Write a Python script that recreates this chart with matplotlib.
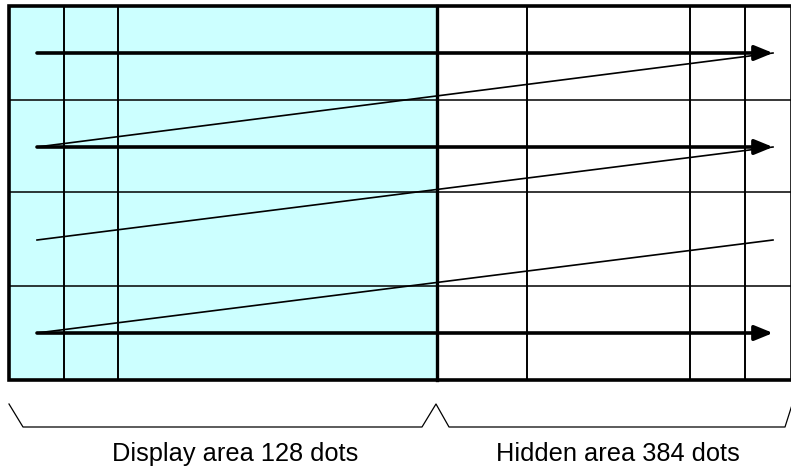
import matplotlib.pyplot as plt
from matplotlib.patches import Rectangle

plt.rcParams["font.family"] = ["Liberation Sans", "DejaVu Sans"]

# frame (pixel coordinates, y downwards)
FRAME_LEFT, FRAME_TOP, FRAME_RIGHT, FRAME_BOTTOM = 9, 6, 792, 380
DISPLAY_RIGHT = 437

GRID_X = [64, 118, 527, 690, 745]
GRID_Y = [100, 192, 286]

ROW_LEFT, ROW_RIGHT = 37, 773
ARROW_ROWS = [53, 147, 333]
SCAN_ROWS = [53, 147, 240, 333]

LABELS = ["Display area 128 dots", "Hidden area 384 dots"]
LABEL_X = [235, 618]
LABEL_Y = 454

BRACE_X = [9, 23, 422, 436, 449, 785, 792]
BRACE_Y = [404, 427, 427, 404, 427, 427, 405]

fig = plt.figure(figsize=(7.91, 4.72), dpi=100)
ax = fig.add_axes([0, 0, 1, 1])
ax.set_xlim(0, 791)
ax.set_ylim(472, 0)
ax.axis("off")

# cyan display area
ax.add_patch(Rectangle((FRAME_LEFT, FRAME_TOP), DISPLAY_RIGHT - FRAME_LEFT,
                       FRAME_BOTTOM - FRAME_TOP, facecolor="#ccffff",
                       edgecolor="none", zorder=0))

# grid lines
for y in GRID_Y:
    ax.plot([FRAME_LEFT, FRAME_RIGHT], [y, y], color="black", lw=1.1, zorder=1)
for x in GRID_X:
    ax.plot([x, x], [FRAME_TOP, FRAME_BOTTOM], color="black", lw=1.4, zorder=1)
ax.plot([DISPLAY_RIGHT, DISPLAY_RIGHT], [FRAME_TOP, FRAME_BOTTOM],
        color="black", lw=2.4, zorder=3)

# outer frame
ax.add_patch(Rectangle((FRAME_LEFT, FRAME_TOP), FRAME_RIGHT - FRAME_LEFT,
                       FRAME_BOTTOM - FRAME_TOP, facecolor="none",
                       edgecolor="black", lw=2.6, zorder=4))

# diagonal return lines
for i in range(len(SCAN_ROWS) - 1):
    ax.plot([ROW_LEFT, ROW_RIGHT], [SCAN_ROWS[i + 1], SCAN_ROWS[i]],
            color="black", lw=1.2, zorder=2)

# scan arrows
for y in ARROW_ROWS:
    ax.annotate("", xy=(ROW_RIGHT, y), xytext=(ROW_LEFT, y),
                arrowprops=dict(arrowstyle="-|>,head_length=1.1,head_width=0.45",
                                color="black", lw=2.6, shrinkA=0, shrinkB=0),
                zorder=3)

# brace under the frame
ax.plot(BRACE_X, BRACE_Y, color="black", lw=0.9)

for label, x in zip(LABELS, LABEL_X):
    ax.text(x, LABEL_Y, label, ha="center", va="center", fontsize=18.3)

fig.savefig("out.png", dpi=100)
